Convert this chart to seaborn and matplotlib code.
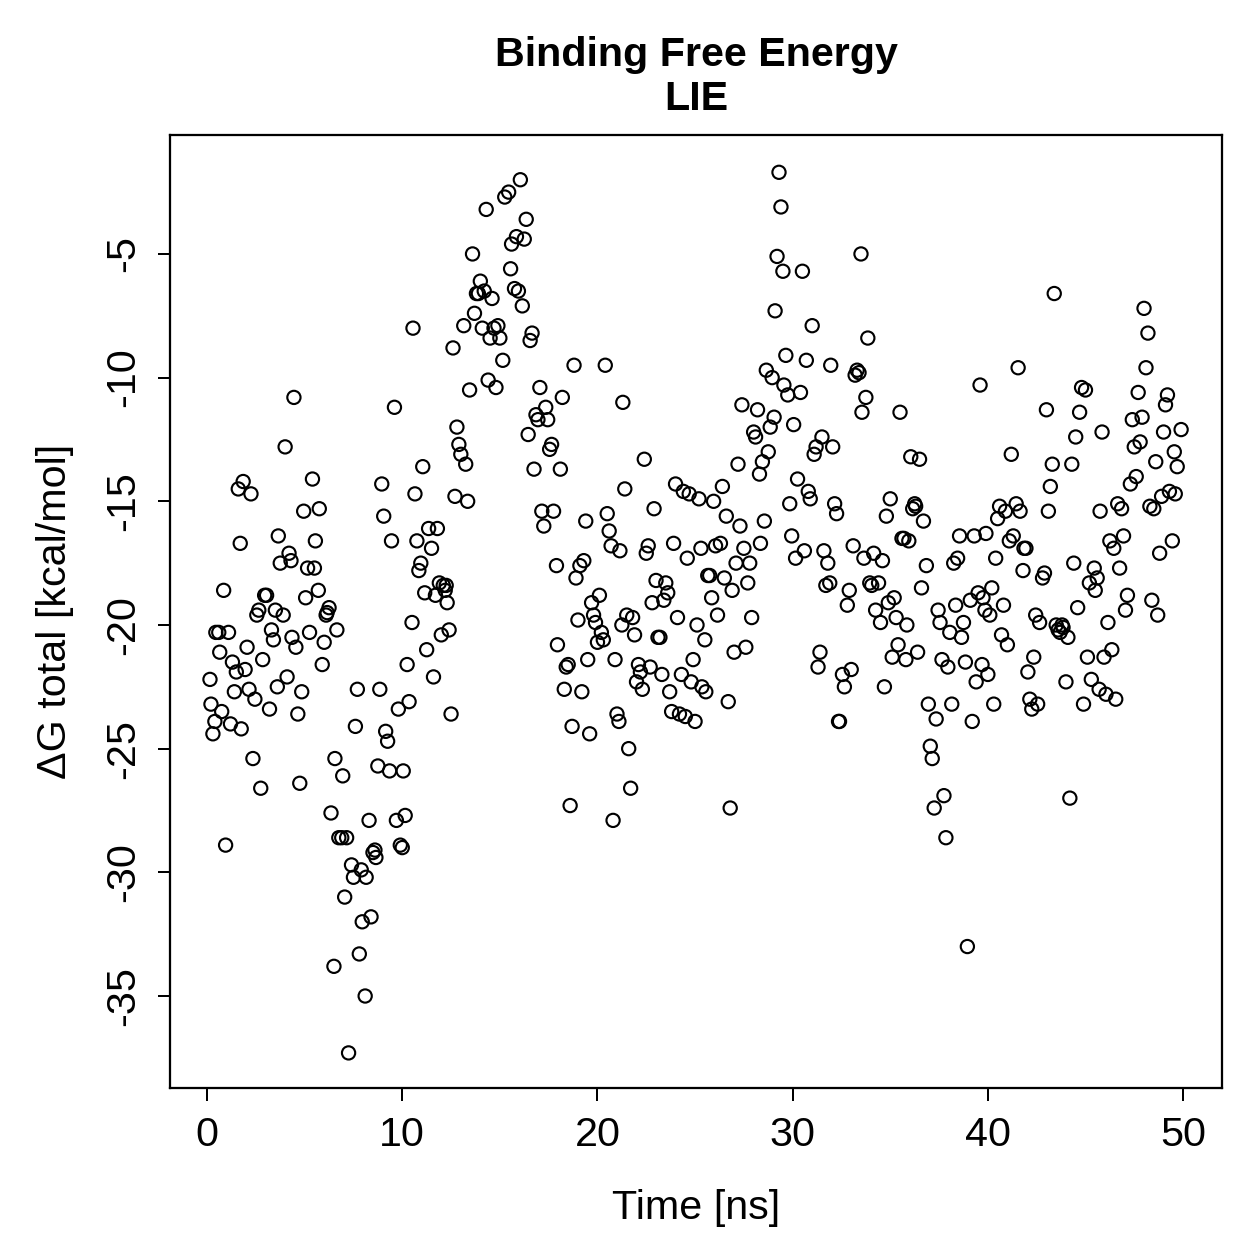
import matplotlib
matplotlib.use("Agg")
import matplotlib.pyplot as plt
import seaborn as sns
import pandas as pd

# time [ns] and dG total [kcal/mol]
time_ns = [
    0.15, 0.2, 0.3, 0.4, 0.45, 0.6, 0.65, 0.75, 0.85, 0.95, 1.1, 1.2, 1.3, 1.4, 1.5, 1.6, 1.7, 1.75, 1.85, 1.95,
    2.05, 2.15, 2.25, 2.35, 2.45, 2.55, 2.65, 2.75, 2.85, 2.95, 3.05, 3.2, 3.3, 3.4, 3.5, 3.6, 3.65, 3.75, 3.9, 4.0,
    4.1, 4.2, 4.3, 4.35, 4.45, 4.55, 4.65, 4.75, 4.85, 4.95, 5.05, 5.15, 5.25, 5.4, 5.5, 5.55, 5.7, 5.75, 5.9, 6.0,
    6.1, 6.15, 6.25, 6.35, 6.5, 6.55, 6.65, 6.75, 6.9, 6.95, 7.05, 7.15, 7.25, 7.4, 7.5, 7.6, 7.7, 7.8, 7.9, 7.95,
    8.1, 8.15, 8.3, 8.4, 8.5, 8.6, 8.65, 8.75, 8.85, 8.95, 9.05, 9.15, 9.25, 9.35, 9.45, 9.6, 9.7, 9.8, 9.9, 10.0,
    10.05, 10.15, 10.25, 10.35, 10.5, 10.55, 10.65, 10.75, 10.85, 10.95, 11.05, 11.15, 11.25, 11.35, 11.5, 11.6, 11.7, 11.8, 11.9, 12.0,
    12.1, 12.2, 12.25, 12.3, 12.4, 12.5, 12.6, 12.7, 12.8, 12.9, 13.0, 13.15, 13.25, 13.35, 13.45, 13.6, 13.7, 13.8, 13.9, 14.0,
    14.1, 14.2, 14.3, 14.4, 14.5, 14.6, 14.7, 14.8, 14.9, 15.0, 15.15, 15.25, 15.45, 15.55, 15.6, 15.75, 15.85, 15.95, 16.05, 16.15,
    16.25, 16.35, 16.45, 16.55, 16.65, 16.75, 16.85, 16.95, 17.05, 17.15, 17.25, 17.35, 17.45, 17.55, 17.65, 17.75, 17.9, 17.95, 18.1, 18.2,
    18.3, 18.4, 18.5, 18.6, 18.7, 18.8, 18.9, 19.0, 19.1, 19.2, 19.3, 19.4, 19.5, 19.6, 19.7, 19.8, 19.9, 20.0, 20.1, 20.2,
    20.3, 20.4, 20.5, 20.6, 20.7, 20.8, 20.9, 21.0, 21.1, 21.15, 21.25, 21.3, 21.4, 21.5, 21.6, 21.7, 21.8, 21.9, 22.0, 22.1,
    22.2, 22.3, 22.4, 22.5, 22.6, 22.7, 22.8, 22.9, 23.0, 23.1, 23.2, 23.3, 23.4, 23.5, 23.6, 23.7, 23.8, 23.9, 24.0, 24.1,
    24.2, 24.3, 24.4, 24.5, 24.6, 24.7, 24.8, 24.9, 25.0, 25.1, 25.2, 25.3, 25.35, 25.5, 25.55, 25.65, 25.75, 25.85, 25.95, 26.05,
    26.15, 26.3, 26.4, 26.5, 26.6, 26.7, 26.8, 26.9, 27.0, 27.1, 27.2, 27.3, 27.4, 27.5, 27.6, 27.7, 27.8, 27.9, 28.0, 28.1,
    28.2, 28.3, 28.35, 28.45, 28.55, 28.65, 28.75, 28.85, 28.95, 29.05, 29.1, 29.2, 29.3, 29.4, 29.5, 29.55, 29.65, 29.75, 29.85, 29.95,
    30.05, 30.15, 30.25, 30.4, 30.5, 30.6, 30.7, 30.8, 30.9, 31.0, 31.1, 31.2, 31.3, 31.4, 31.5, 31.6, 31.7, 31.8, 31.9, 31.95,
    32.05, 32.15, 32.25, 32.35, 32.4, 32.55, 32.65, 32.8, 32.9, 33.0, 33.1, 33.2, 33.3, 33.4, 33.5, 33.55, 33.65, 33.75, 33.85, 33.95,
    34.05, 34.15, 34.25, 34.4, 34.5, 34.6, 34.7, 34.8, 34.9, 35.0, 35.1, 35.2, 35.3, 35.4, 35.5, 35.6, 35.7, 35.8, 35.85, 35.95,
    36.05, 36.15, 36.25, 36.3, 36.4, 36.5, 36.6, 36.7, 36.85, 36.95, 37.05, 37.15, 37.25, 37.35, 37.45, 37.55, 37.65, 37.75, 37.85, 37.95,
    38.05, 38.15, 38.25, 38.35, 38.45, 38.55, 38.65, 38.75, 38.85, 38.95, 39.1, 39.2, 39.3, 39.4, 39.5, 39.6, 39.7, 39.75, 39.85, 39.9,
    40.0, 40.1, 40.2, 40.3, 40.4, 40.5, 40.6, 40.7, 40.8, 40.9, 41.0, 41.1, 41.2, 41.3, 41.45, 41.55, 41.65, 41.8, 41.85, 41.95,
    42.05, 42.15, 42.25, 42.35, 42.45, 42.55, 42.65, 42.8, 42.9, 43.0, 43.1, 43.2, 43.3, 43.4, 43.5, 43.6, 43.7, 43.8, 43.85, 44.0,
    44.1, 44.2, 44.3, 44.4, 44.5, 44.6, 44.7, 44.8, 44.9, 45.0, 45.1, 45.2, 45.3, 45.45, 45.5, 45.6, 45.7, 45.75, 45.85, 45.95,
    46.05, 46.15, 46.25, 46.35, 46.45, 46.55, 46.65, 46.75, 46.85, 46.95, 47.05, 47.15, 47.3, 47.4, 47.5, 47.6, 47.7, 47.8, 47.9, 48.0,
    48.1, 48.2, 48.3, 48.4, 48.5, 48.6, 48.7, 48.8, 48.9, 49.0, 49.1, 49.2, 49.3, 49.45, 49.55, 49.6, 49.7, 49.9,
]
dg_total = [
    -22.2, -23.2, -24.4, -23.9, -20.3, -20.3, -21.1, -23.5, -18.6, -28.9, -20.3, -24.0, -21.5, -22.7, -21.9, -14.5, -16.7, -24.2, -14.2, -21.8,
    -20.9, -22.6, -14.7, -25.4, -23.0, -19.6, -19.4, -26.6, -21.4, -18.8, -18.8, -23.4, -20.2, -20.6, -19.4, -22.5, -16.4, -17.5, -19.6, -12.8,
    -22.1, -17.1, -17.4, -20.5, -10.8, -20.9, -23.6, -26.4, -22.7, -15.4, -18.9, -17.7, -20.3, -14.1, -17.7, -16.6, -18.6, -15.3, -21.6, -20.7,
    -19.6, -19.5, -19.3, -27.6, -33.8, -25.4, -20.2, -28.6, -28.6, -26.1, -31.0, -28.6, -37.3, -29.7, -30.2, -24.1, -22.6, -33.3, -29.9, -32.0,
    -35.0, -30.2, -27.9, -31.8, -29.2, -29.1, -29.4, -25.7, -22.6, -14.3, -15.6, -24.3, -24.7, -25.9, -16.6, -11.2, -27.9, -23.4, -28.9, -29.0,
    -25.9, -27.7, -21.6, -23.1, -19.9, -8.0, -14.7, -16.6, -17.8, -17.5, -13.6, -18.7, -21.0, -16.1, -16.9, -22.1, -18.8, -16.1, -18.3, -20.4,
    -18.4, -18.6, -18.4, -19.1, -20.2, -23.6, -8.8, -14.8, -12.0, -12.7, -13.1, -7.9, -13.5, -15.0, -10.5, -5.0, -7.4, -6.6, -6.6, -6.1,
    -8.0, -6.5, -3.2, -10.1, -8.4, -6.8, -8.0, -10.4, -7.9, -8.4, -9.3, -2.7, -2.5, -5.6, -4.6, -6.4, -4.3, -6.5, -2.0, -7.1,
    -4.4, -3.6, -12.3, -8.5, -8.2, -13.7, -11.5, -11.7, -10.4, -15.4, -16.0, -11.2, -11.7, -12.9, -12.7, -15.4, -17.6, -20.8, -13.7, -10.8,
    -22.6, -21.7, -21.6, -27.3, -24.1, -9.5, -18.1, -19.8, -17.6, -22.7, -17.4, -15.8, -21.4, -24.4, -19.1, -19.6, -19.9, -20.7, -18.8, -20.3,
    -20.6, -9.5, -15.5, -16.2, -16.8, -27.9, -21.4, -23.6, -23.9, -17.0, -20.0, -11.0, -14.5, -19.6, -25.0, -26.6, -19.7, -20.4, -22.3, -21.6,
    -21.9, -22.6, -13.3, -17.1, -16.8, -21.7, -19.1, -15.3, -18.2, -20.5, -20.5, -22.0, -19.0, -18.3, -18.7, -22.7, -23.5, -16.7, -14.3, -19.7,
    -23.6, -22.0, -14.6, -23.7, -17.3, -14.7, -22.3, -21.4, -23.9, -20.0, -14.9, -16.9, -22.5, -20.6, -22.7, -18.0, -18.0, -18.9, -15.0, -16.8,
    -19.6, -16.7, -14.4, -18.1, -15.6, -23.1, -27.4, -18.6, -21.1, -17.5, -13.5, -16.0, -11.1, -16.9, -20.9, -18.3, -17.5, -19.7, -12.2, -12.4,
    -11.3, -13.9, -16.7, -13.4, -15.8, -9.7, -13.0, -12.0, -10.0, -11.6, -7.3, -5.1, -1.7, -3.1, -5.7, -10.3, -9.1, -10.7, -15.1, -16.4,
    -11.9, -17.3, -14.1, -10.6, -5.7, -17.0, -9.3, -14.6, -14.9, -7.9, -13.1, -12.8, -21.7, -21.1, -12.4, -17.0, -18.4, -17.5, -18.3, -9.5,
    -12.8, -15.1, -15.5, -23.9, -23.9, -22.0, -22.5, -19.2, -18.6, -21.8, -16.8, -9.9, -9.7, -9.8, -5.0, -11.4, -17.3, -10.8, -8.4, -18.3,
    -18.4, -17.1, -19.4, -18.3, -19.9, -17.4, -22.5, -15.6, -19.1, -14.9, -21.3, -18.9, -19.7, -20.8, -11.4, -16.5, -16.5, -21.4, -20.0, -16.6,
    -13.2, -15.3, -15.1, -15.2, -21.1, -13.3, -18.5, -15.8, -17.6, -23.2, -24.9, -25.4, -27.4, -23.8, -19.4, -19.9, -21.4, -26.9, -28.6, -21.7,
    -20.3, -23.2, -17.5, -19.2, -17.3, -16.4, -20.5, -19.9, -21.5, -33.0, -19.0, -23.9, -16.4, -22.3, -18.7, -10.3, -21.6, -18.9, -19.4, -16.3,
    -22.0, -19.6, -18.5, -23.2, -17.3, -15.7, -15.2, -20.4, -19.2, -15.4, -20.8, -16.6, -13.1, -16.4, -15.1, -9.6, -15.4, -17.8, -16.9, -16.9,
    -21.9, -23.0, -23.4, -21.3, -19.6, -23.2, -19.9, -18.1, -17.9, -11.3, -15.4, -14.4, -13.5, -6.6, -20.0, -20.2, -20.3, -20.0, -20.1, -22.3,
    -20.5, -27.0, -13.5, -17.5, -12.4, -19.3, -11.4, -10.4, -23.2, -10.5, -21.3, -18.3, -22.2, -17.7, -18.6, -18.1, -22.6, -15.4, -12.2, -21.3,
    -22.8, -19.9, -16.6, -21.0, -16.9, -23.0, -15.1, -17.7, -15.3, -16.4, -19.4, -18.8, -14.3, -11.7, -12.8, -14.0, -10.6, -12.6, -11.6, -7.2,
    -9.6, -8.2, -15.2, -19.0, -15.3, -13.4, -19.6, -17.1, -14.8, -12.2, -11.1, -10.7, -14.6, -16.6, -13.0, -14.7, -13.6, -12.1,
]

df = pd.DataFrame({"time": time_ns, "dg": dg_total})

plt.rcParams['font.family'] = ['Liberation Sans', 'DejaVu Sans']
plt.rcParams['axes.unicode_minus'] = False

fig = plt.figure(figsize=(1259 / 180, 1259 / 180), dpi=180)
ax = fig.add_axes([0.135, 0.1358, 0.8357, 0.757])

sns.scatterplot(data=df, x="time", y="dg", ax=ax, marker="o", s=28,
                facecolor="none", edgecolor="black", linewidth=0.85, legend=False)

ax.set_xlim(-1.9, 52.0)
ax.set_ylim(-38.72, -0.19)
ax.set_xticks([0, 10, 20, 30, 40, 50])
ax.set_yticks([-35, -30, -25, -20, -15, -10, -5])
ax.tick_params(axis="both", direction="out", length=5, width=0.8, labelsize=16.5, pad=6)
for lab in ax.get_yticklabels():
    lab.set_rotation(90)
    lab.set_va("center")
for sp in ax.spines.values():
    sp.set_linewidth(0.9)

ax.set_title("Binding Free Energy\nLIE", fontsize=16.5, fontweight="bold", pad=10, linespacing=1.2)
ax.set_xlabel("Time [ns]", fontsize=16.5, labelpad=14)
ax.set_ylabel("ΔG total [kcal/mol]", fontsize=16.5, labelpad=12)

plt.savefig("out.png", dpi=180)
